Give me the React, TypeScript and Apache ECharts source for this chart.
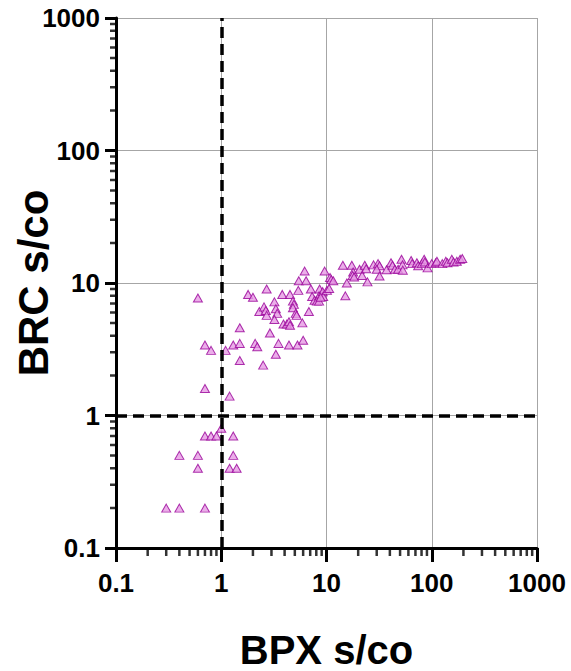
import React, { useEffect, useRef } from "react";
import * as echarts from "echarts";

const lowGroup: [number, number][] = [
  [0.6, 7.7], [0.7, 3.4], [0.8, 3.1], [1.1, 3.1], [1.3, 3.4], [1.5, 3.5], [1.5, 4.6], [1.5, 2.6],
  [0.7, 1.6], [1.2, 1.4],
  [0.7, 0.7], [0.8, 0.7], [0.9, 0.7], [1.0, 0.8], [1.3, 0.7],
  [0.4, 0.5], [0.6, 0.5], [1.3, 0.5],
  [0.6, 0.4], [1.2, 0.4], [1.4, 0.4],
  [0.3, 0.2], [0.4, 0.2], [0.7, 0.2],
];

const midGroup: [number, number][] = [
  [1.8, 8.2], [2.0, 7.8], [2.7, 9.0], [2.5, 2.4], [2.1, 3.5], [2.2, 3.3], [2.9, 4.2], [3.5, 3.5], [3.3, 2.9],
  [2.3, 6.1], [2.55, 6.6], [2.65, 6.2], [2.7, 5.7],
  [3.2, 7.2], [3.3, 6.4], [3.4, 5.9], [3.2, 5.3],
  [3.8, 8.2], [4.5, 8.2], [5.4, 8.8],
  [4.8, 7.3], [4.9, 6.9], [4.8, 6.5], [5.1, 5.9], [5.2, 5.7],
  [3.9, 4.9], [4.2, 4.9], [4.4, 5.1], [4.5, 4.8], [5.9, 5.0], [4.4, 3.4], [5.3, 3.4], [6.0, 3.7], [6.8, 6.1],
  [6.2, 12.3], [5.45, 10.4], [6.4, 10.4], [7.1, 9.0], [8.6, 9.0],
  [7.3, 7.9], [7.7, 7.4], [8.5, 8.0], [9.2, 8.6], [9.3, 7.9], [10.1, 8.8], [10.6, 9.1], [8.1, 7.3], [8.5, 7.3], [8.8, 7.8],
  [9.6, 12.3], [10.8, 11], [11.1, 10.6], [11.6, 10.4],
];

const highGroup: [number, number][] = [
  [14.3, 13.6], [15.6, 10], [15.1, 8.0], [17.4, 13.6], [17.9, 12.1], [17.7, 11.4], [18.3, 11.1],
  [20.6, 12.7], [21.8, 11.4], [23.1, 13.6], [23.8, 12.8], [24.5, 10.2], [28, 13.7], [30.9, 14],
  [31.9, 13.5], [30, 12.7], [31.9, 11.3], [37.2, 12.6], [41, 14.2], [42.4, 13.6], [44.6, 12.7],
  [47.9, 12.7], [51.6, 15.1], [52.8, 13.7], [53.1, 12.5], [63.7, 14.8], [65.2, 14], [72.2, 14.2],
  [74.3, 13.5], [80.5, 14], [84.7, 15.1], [86, 14.4], [91.2, 13], [100, 14], [109, 14.2], [112, 14.6],
  [126, 14], [136, 14.6], [141, 14.2], [155, 15.1], [161, 14.4], [173, 14.6], [186, 15.1], [195, 15.3],
];

const decades = [0.1, 1, 10, 100];
const minorMultipliers = [2, 3, 4, 5, 6, 7, 8, 9];
const majorValues = [0.1, 1, 10, 100, 1000];
const tickLabels = ["0.1", "1", "10", "100", "1000"];
const cutoffX = 1;
const cutoffY = 1;
const axisMin = 0.1;

const minorValues: number[] = [];
for (const d of decades) {
  for (const m of minorMultipliers) {
    minorValues.push(Number((d * m).toPrecision(3)));
  }
}

// tick glyphs: the empty sub-path widens the bounding box so the filled bar
// sits only on the outer half of the symbol (outside the plot area)
const X_TICK_SYMBOL = "path://M0,-1L0,-1ZM0,0L1,0L1,1L0,1Z";
const Y_TICK_SYMBOL = "path://M2,0L2,0ZM0,0L1,0L1,1L0,1Z";

const FONT = "Liberation Sans, Arial, sans-serif";

function fmt(v: number): string {
  const i = majorValues.findIndex((t) => Math.abs(Math.log10(v) - Math.log10(t)) < 1e-6);
  return i >= 0 ? tickLabels[i] : "";
}

export default function App() {
  const ref = useRef<HTMLDivElement>(null);
  useEffect(() => {
    if (!ref.current) return;
    const chart = echarts.init(ref.current, null, { renderer: "svg" });
    const labelStyle = {
      fontSize: 26,
      fontWeight: "bold",
      fontFamily: FONT,
      color: "#000",
      formatter: fmt,
    };
    const nameStyle = { fontFamily: FONT, fontWeight: "bold", color: "#000" };
    chart.setOption({
      animation: false,
      grid: { left: 116, right: 34, top: 18, bottom: 123, outerBoundsMode: "none" },
      xAxis: {
        type: "log",
        min: 0.1,
        max: 1000,
        name: "BPX s/co",
        nameLocation: "middle",
        nameGap: 84,
        nameMoveOverlap: false,
        nameTextStyle: { ...nameStyle, fontSize: 40, lineHeight: 36 },
        axisLine: { lineStyle: { color: "#000", width: 3 } },
        splitLine: { show: true, lineStyle: { color: "#a6a6a6", width: 1 } },
        axisTick: { length: 14, lineStyle: { color: "#000", width: 3 } },
        axisLabel: { ...labelStyle, margin: 22 },
      },
      yAxis: {
        type: "log",
        min: 0.1,
        max: 1000,
        name: "BRC s/co",
        nameLocation: "middle",
        nameGap: 62,
        nameRotate: 90,
        nameMoveOverlap: false,
        nameTextStyle: { ...nameStyle, fontSize: 42 },
        axisLine: { lineStyle: { color: "#000", width: 3 } },
        splitLine: { show: true, lineStyle: { color: "#a6a6a6", width: 1 } },
        axisTick: { length: 11, lineStyle: { color: "#000", width: 3 } },
        axisLabel: { ...labelStyle, margin: 16 },
      },
      series: [
        {
          type: "scatter",
          clip: false,
          symbol: X_TICK_SYMBOL,
          symbolSize: [2.5, 16],
          itemStyle: { color: "#000" },
          data: minorValues.map((v) => [v, axisMin]),
        },
        {
          type: "scatter",
          clip: false,
          symbol: Y_TICK_SYMBOL,
          symbolSize: [12, 2.5],
          itemStyle: { color: "#000" },
          data: minorValues.map((v) => [axisMin, v]),
        },
        {
          type: "scatter",
          symbol: "triangle",
          symbolSize: [9, 8],
          itemStyle: { color: "#e69ae3", borderColor: "#990099", borderWidth: 1 },
          data: [...lowGroup, ...midGroup, ...highGroup],
          markLine: {
            symbol: "none",
            label: { show: false },
            lineStyle: { color: "#000", width: 3.5, type: [11, 6] },
            data: [{ xAxis: cutoffX }, { yAxis: cutoffY }],
          },
        },
      ],
    });

    return () => chart.dispose();
  }, []);
  return <div ref={ref} style={{ position: "absolute", left: 0, top: 0, width: 571, height: 671 }} />;
}
